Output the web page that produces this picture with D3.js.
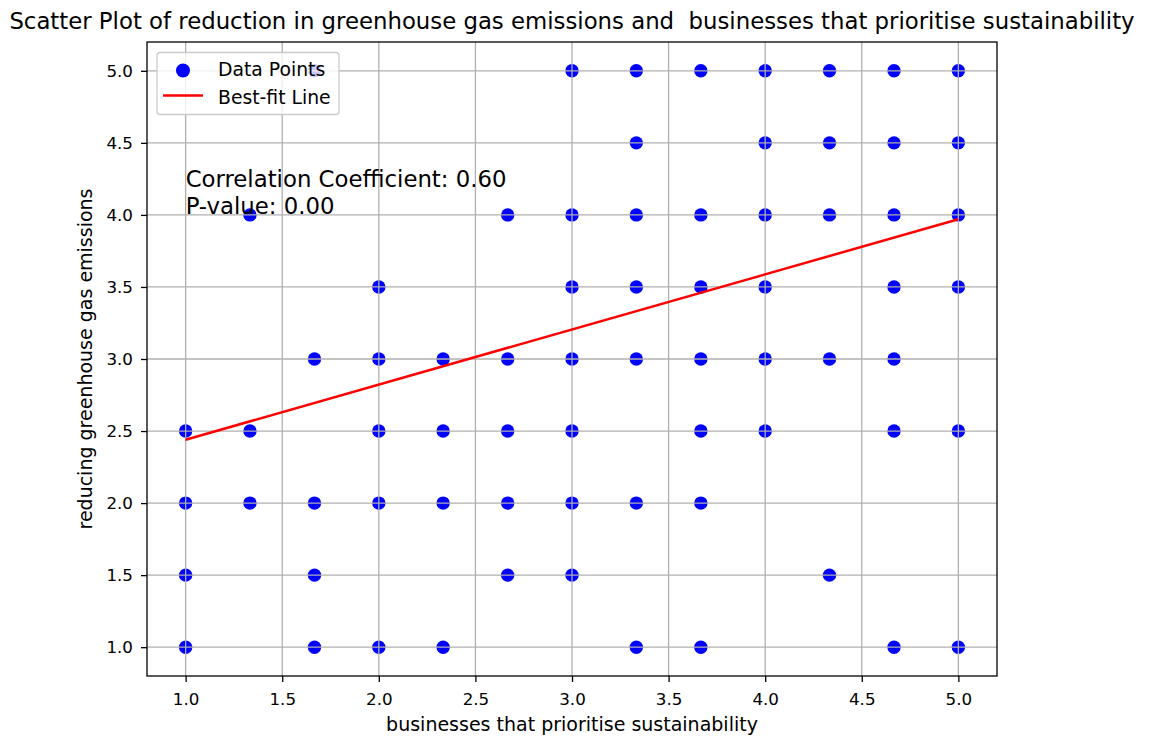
<!DOCTYPE html>
<html>
<head>
<meta charset="utf-8">
<script src="https://cdn.jsdelivr.net/npm/d3@7"></script>
<style>
  html, body { margin: 0; padding: 0; background: #fff; }
  svg { display: block; font-family: "DejaVu Sans", sans-serif; }
  text { white-space: pre; }
</style>
</head>
<body>
<svg id="chart" width="1149" height="738"></svg>
<script>
// Survey responses: businesses that prioritise sustainability (x) vs reducing greenhouse gas emissions (y)
const xValues = [
  1.667, 3.0, 3.333, 3.667, 4.0, 4.333, 4.667, 5.0,
  3.333, 4.0, 4.333, 4.667, 5.0,
  1.333, 2.667, 3.0, 3.333, 3.667, 4.0, 4.333, 4.667, 5.0,
  2.0, 3.0, 3.333, 3.667, 4.0, 4.667, 5.0,
  1.667, 2.0, 2.333, 2.667, 3.0, 3.333, 3.667, 4.0, 4.333, 4.667,
  1.0, 1.333, 2.0, 2.333, 2.667, 3.0, 3.667, 4.0, 4.667, 5.0,
  1.0, 1.333, 1.667, 2.0, 2.333, 2.667, 3.0, 3.333, 3.667,
  1.0, 1.667, 2.667, 3.0, 4.333,
  1.0, 1.667, 2.0, 2.333, 3.333, 3.667, 4.667, 5.0
];
const yValues = [
  5.0, 5.0, 5.0, 5.0, 5.0, 5.0, 5.0, 5.0,
  4.5, 4.5, 4.5, 4.5, 4.5,
  4.0, 4.0, 4.0, 4.0, 4.0, 4.0, 4.0, 4.0, 4.0,
  3.5, 3.5, 3.5, 3.5, 3.5, 3.5, 3.5,
  3.0, 3.0, 3.0, 3.0, 3.0, 3.0, 3.0, 3.0, 3.0, 3.0,
  2.5, 2.5, 2.5, 2.5, 2.5, 2.5, 2.5, 2.5, 2.5, 2.5,
  2.0, 2.0, 2.0, 2.0, 2.0, 2.0, 2.0, 2.0, 2.0,
  1.5, 1.5, 1.5, 1.5, 1.5,
  1.0, 1.0, 1.0, 1.0, 1.0, 1.0, 1.0, 1.0
];

// Least-squares line endpoints
const fitX = [1.0, 5.0];
const fitY = [2.44, 3.97];

const tickValues = [1.0, 1.5, 2.0, 2.5, 3.0, 3.5, 4.0, 4.5, 5.0];
const correlation = 0.60;
const pValue = 0.00;

const titleText = "Scatter Plot of reduction in greenhouse gas emissions and  businesses that prioritise sustainability";
const xLabel = "businesses that prioritise sustainability";
const yLabel = "reducing greenhouse gas emissions";
const legendLabels = ["Data Points", "Best-fit Line"];

const svg = d3.select("#chart");
const plot = { left: 147, right: 997, top: 42, bottom: 676 };

const x = d3.scaleLinear().domain([0.8, 5.2]).range([plot.left, plot.right]);
const y = d3.scaleLinear().domain([0.8, 5.2]).range([plot.bottom, plot.top]);

const points = xValues.map((v, i) => ({ x: v, y: yValues[i] }));

// Scatter points
svg.append("g")
  .selectAll("circle")
  .data(points)
  .join("circle")
  .attr("cx", d => x(d.x))
  .attr("cy", d => y(d.y))
  .attr("r", 6.7)
  .attr("fill", "#0000ff");

// Grid, drawn above the scatter markers
const grid = svg.append("g").attr("stroke", "#b0b0b0").attr("stroke-width", 1.3);
grid.selectAll("line.vx")
  .data(tickValues).join("line")
  .attr("class", "vx")
  .attr("x1", d => x(d)).attr("x2", d => x(d))
  .attr("y1", plot.top).attr("y2", plot.bottom);
grid.selectAll("line.hy")
  .data(tickValues).join("line")
  .attr("class", "hy")
  .attr("y1", d => y(d)).attr("y2", d => y(d))
  .attr("x1", plot.left).attr("x2", plot.right);

// Best-fit line
svg.append("path")
  .datum(fitX.map((v, i) => [v, fitY[i]]))
  .attr("fill", "none")
  .attr("stroke", "#ff0000")
  .attr("stroke-width", 2.5)
  .attr("d", d3.line().x(d => x(d[0])).y(d => y(d[1])));

// Axes
const fmt = d3.format(".1f");
const xAxis = svg.append("g")
  .attr("transform", `translate(0,${plot.bottom})`)
  .call(d3.axisBottom(x).tickValues(tickValues).tickFormat(fmt).tickSize(6).tickPadding(11));
const yAxis = svg.append("g")
  .attr("transform", `translate(${plot.left},0)`)
  .call(d3.axisLeft(y).tickValues(tickValues).tickFormat(fmt).tickSize(6).tickPadding(8));
[xAxis, yAxis].forEach(a => {
  a.select(".domain").remove();
  a.selectAll("text").attr("font-size", 16.7).attr("fill", "#000").attr("font-family", "DejaVu Sans");
  a.selectAll("line").attr("stroke", "#000").attr("stroke-width", 1.3);
});

// Frame
svg.append("rect")
  .attr("x", plot.left).attr("y", plot.top)
  .attr("width", plot.right - plot.left).attr("height", plot.bottom - plot.top)
  .attr("fill", "none").attr("stroke", "#000").attr("stroke-width", 1.3);

// Statistics annotation
const stats = svg.append("text")
  .attr("x", x(1.0))
  .attr("font-size", 22.8)
  .attr("fill", "#000");
stats.append("tspan").attr("x", x(1.0)).attr("y", 187).text(`Correlation Coefficient: ${correlation.toFixed(2)}`);
stats.append("tspan").attr("x", x(1.0)).attr("y", 214).text(`P-value: ${pValue.toFixed(2)}`);

// Legend
const legend = svg.append("g");
legend.append("rect")
  .attr("x", 157).attr("y", 52.5).attr("width", 182).attr("height", 62)
  .attr("rx", 3).attr("fill", "#fff").attr("fill-opacity", 0.8)
  .attr("stroke", "#cccccc").attr("stroke-width", 1.3);
legend.append("circle").attr("cx", 183).attr("cy", 70.5).attr("r", 7).attr("fill", "#0000ff");
legend.append("line").attr("x1", 163).attr("x2", 203).attr("y1", 95.5).attr("y2", 95.5)
  .attr("stroke", "#ff0000").attr("stroke-width", 2.5);
legend.selectAll("text.lg")
  .data(legendLabels).join("text")
  .attr("class", "lg")
  .attr("x", 218).attr("y", (d, i) => 76 + i * 28)
  .attr("font-size", 18.8).attr("fill", "#000")
  .text(d => d);

// Titles
svg.append("text")
  .attr("x", (plot.left + plot.right) / 2).attr("y", 29)
  .attr("text-anchor", "middle").attr("font-size", 22.8).attr("fill", "#000")
  .text(titleText);
svg.append("text")
  .attr("x", (plot.left + plot.right) / 2).attr("y", 731)
  .attr("text-anchor", "middle").attr("font-size", 19).attr("fill", "#000")
  .text(xLabel);
svg.append("text")
  .attr("transform", `translate(92,${(plot.top + plot.bottom) / 2}) rotate(-90)`)
  .attr("text-anchor", "middle").attr("font-size", 19).attr("fill", "#000")
  .text(yLabel);
</script>
</body>
</html>
